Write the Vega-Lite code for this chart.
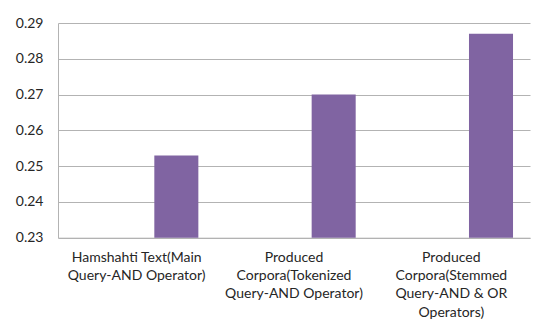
{
  "$schema": "https://vega.github.io/schema/vega-lite/v6.json",
  "autosize": "none",
  "padding": {"left": 58, "top": 23, "right": 24, "bottom": 91.3},
  "width": 472,
  "height": 214.7,
  "background": "white",
  "config": {
    "view": {"stroke": null},
    "font": "Lato",
    "axis": {
      "labelFont": "Lato",
      "labelFontSize": 14,
      "labelColor": "#262626",
      "domainColor": "#b3b3b3",
      "gridColor": "#b3b3b3",
      "title": null
    }
  },
  "data": {
    "values": [
      {"category": "Hamshahti Text(Main\nQuery-AND Operator)", "series": "Series2", "value": 0.253},
      {"category": "Produced\nCorpora(Tokenized\nQuery-AND Operator)", "series": "Series2", "value": 0.270},
      {"category": "Produced\nCorpora(Stemmed\nQuery-AND & OR\nOperators)", "series": "Series2", "value": 0.287}
    ]
  },
  "mark": {"type": "bar", "color": "#8064a2"},
  "encoding": {
    "x": {
      "field": "category",
      "type": "nominal",
      "sort": null,
      "scale": {"paddingInner": 0, "paddingOuter": 0},
      "axis": {
        "orient": "bottom",
        "ticks": false,
        "labelAngle": 0,
        "labelAlign": "center",
        "labelBaseline": "top",
        "labelPadding": 12.5,
        "labelLineHeight": 18.3,
        "labelExpr": "split(datum.label, '\\n')",
        "grid": false
      }
    },
    "xOffset": {
      "field": "series",
      "type": "nominal",
      "scale": {"domain": ["Series1", "Series2"], "paddingInner": 0.445, "paddingOuter": 0.214}
    },
    "y": {
      "field": "value",
      "type": "quantitative",
      "scale": {"domain": [0.23, 0.29], "zero": false, "nice": false},
      "axis": {
        "orient": "left",
        "ticks": false,
        "values": [0.23, 0.24, 0.25, 0.26, 0.27, 0.28, 0.29],
        "format": ".2f",
        "labelPadding": 15,
        "grid": true
      }
    },
    "y2": {"datum": 0.23}
  }
}
